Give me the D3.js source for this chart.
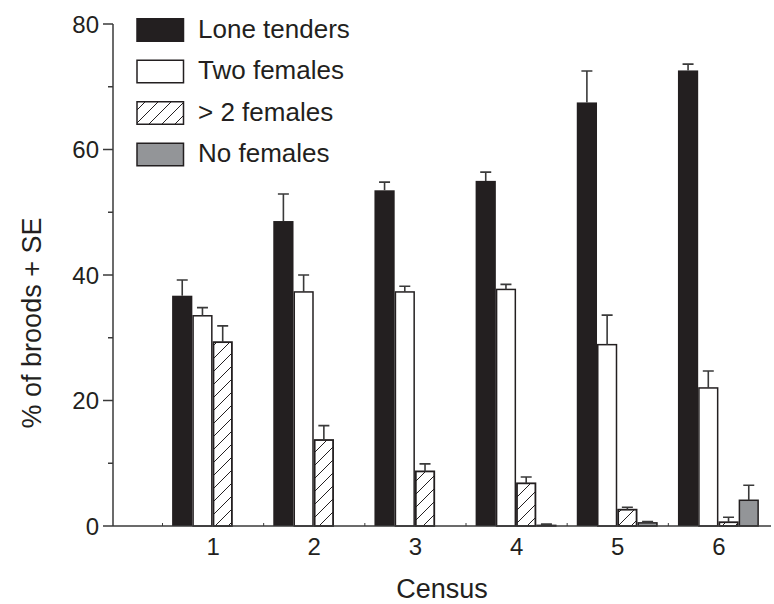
<!DOCTYPE html>
<html>
<head>
<meta charset="utf-8">
<script src="https://cdn.jsdelivr.net/npm/d3@7/dist/d3.min.js"></script>
<style>
  html, body { margin: 0; padding: 0; background: #fff; }
  svg { display: block; font-family: "Liberation Sans", Arial, sans-serif; }
</style>
</head>
<body>
<svg id="chart" width="774" height="604"></svg>
<script>
// ---- data ----
const categories = ["1", "2", "3", "4", "5", "6"];
const seriesNames = ["Lone tenders", "Two females", "> 2 females", "No females"];
const loneTenders   = [36.7, 48.6, 53.5, 55.0, 67.5, 72.6];
const loneTendersSE = [2.5, 4.3, 1.3, 1.4, 5.0, 1.0];
const twoFemales    = [33.5, 37.3, 37.3, 37.7, 28.9, 22.0];
const twoFemalesSE  = [1.3, 2.7, 0.9, 0.8, 4.7, 2.7];
const moreFemales   = [29.3, 13.7, 8.7, 6.8, 2.6, 0.6];
const moreFemalesSE = [2.6, 2.3, 1.2, 1.0, 0.4, 0.8];
const noFemales     = [0, 0, 0, 0.1, 0.5, 4.1];
const noFemalesSE   = [0, 0, 0, 0.2, 0.2, 2.4];
const yTicks = [0, 20, 40, 60, 80];
const yMinorTicks = [10, 30, 50, 70];

const seriesValues = [loneTenders, twoFemales, moreFemales, noFemales];
const seriesSE = [loneTendersSE, twoFemalesSE, moreFemalesSE, noFemalesSE];

// ---- styles ----
const ink = "#231f20";
const axisColor = "#3a3a3a";
const fills = [ink, "#ffffff", "url(#hatch)", "#939598"];
const strokes = ["none", ink, ink, ink];

const svg = d3.select("#chart");
const defs = svg.append("defs");
const pat = defs.append("pattern")
  .attr("id", "hatch").attr("patternUnits", "userSpaceOnUse")
  .attr("width", 13).attr("height", 13);
pat.append("rect").attr("width", 13).attr("height", 13).attr("fill", "#fff");
pat.append("path").attr("d", "M-3,3 L3,-3 M0,13 L13,0 M10,16 L16,10")
  .attr("stroke", ink).attr("stroke-width", 1);

const plotLeft = 113, plotRight = 771, plotTop = 24, plotBottom = 526;

const x = d3.scaleBand().domain(categories).range([162.5, 769.5]).paddingInner(0).paddingOuter(0);
const bw = x.bandwidth();
const xs = d3.scaleBand().domain(d3.range(4)).range([bw * 0.095, bw * 0.895]).padding(0);
const y = d3.scaleLinear().domain([0, 80]).range([plotBottom, plotTop]);

// bars
const g = svg.append("g");
seriesValues.forEach((vals, s) => {
  const data = categories.map((c, i) => ({c, v: vals[i], se: seriesSE[s][i]})).filter(d => d.v > 0);
  const sw = s === 0 ? 0 : (s === 2 ? 1.8 : 1.5);
  g.selectAll(null).data(data).enter().append("rect")
    .attr("x", d => x(d.c) + xs(s) + sw / 2)
    .attr("y", d => y(d.v))
    .attr("width", xs.bandwidth() - sw)
    .attr("height", d => y(0) - y(d.v))
    .attr("fill", fills[s])
    .attr("stroke", strokes[s])
    .attr("stroke-width", sw);
  // error bars
  const cx = d => x(d.c) + xs(s) + xs.bandwidth() / 2;
  g.selectAll(null).data(data.filter(d => d.se > 0)).enter().append("path")
    .attr("d", d => `M${cx(d)},${y(d.v)}V${y(d.v + d.se)}M${cx(d) - 5.5},${y(d.v + d.se)}H${cx(d) + 5.5}`)
    .attr("stroke", axisColor).attr("stroke-width", 1.6).attr("fill", "none");
});

// y axis
const ax = svg.append("g");
ax.append("line").attr("x1", plotLeft).attr("x2", plotLeft)
  .attr("y1", plotTop).attr("y2", plotBottom)
  .attr("stroke", axisColor).attr("stroke-width", 1.5);
ax.selectAll(null).data(yTicks).enter().append("line")
  .attr("x1", plotLeft - 10).attr("x2", plotLeft)
  .attr("y1", d => y(d)).attr("y2", d => y(d))
  .attr("stroke", axisColor).attr("stroke-width", 1.5);
ax.selectAll(null).data(yMinorTicks).enter().append("line")
  .attr("x1", plotLeft - 5).attr("x2", plotLeft)
  .attr("y1", d => y(d)).attr("y2", d => y(d))
  .attr("stroke", axisColor).attr("stroke-width", 1.5);
ax.selectAll(null).data(yTicks).enter().append("text")
  .attr("x", plotLeft - 14).attr("y", d => y(d)).attr("dy", "0.36em")
  .attr("text-anchor", "end").attr("font-size", 24).attr("fill", ink)
  .text(d => d);

// x axis
ax.append("line").attr("x1", plotLeft).attr("x2", plotRight)
  .attr("y1", plotBottom).attr("y2", plotBottom)
  .attr("stroke", axisColor).attr("stroke-width", 1.5);
const edges = categories.map(c => x(c));
ax.selectAll(null).data(edges).enter().append("line")
  .attr("x1", d => d).attr("x2", d => d)
  .attr("y1", plotBottom - 3).attr("y2", plotBottom)
  .attr("stroke", axisColor).attr("stroke-width", 1);
ax.selectAll(null).data(categories).enter().append("text")
  .attr("x", d => x(d) + bw / 2).attr("y", 555)
  .attr("text-anchor", "middle").attr("font-size", 24).attr("fill", ink)
  .text(d => d);

// axis titles
svg.append("text").attr("x", 442).attr("y", 598)
  .attr("text-anchor", "middle").attr("font-size", 27).attr("fill", ink)
  .text("Census");
svg.append("text").attr("transform", "translate(41,323) rotate(-90)")
  .attr("text-anchor", "middle").attr("font-size", 27).attr("fill", ink)
  .text("% of broods + SE");

// legend
const leg = svg.append("g");
seriesNames.forEach((name, s) => {
  const top = 18 + s * 41.5;
  leg.append("rect").attr("x", 137).attr("y", top + 0.75)
    .attr("width", 46.5).attr("height", 22.5)
    .attr("fill", fills[s]).attr("stroke", ink).attr("stroke-width", 1.5);
  leg.append("text").attr("x", 198).attr("y", top + 19.5)
    .attr("font-size", 26).attr("fill", ink).text(name);
});
</script>
</body>
</html>
